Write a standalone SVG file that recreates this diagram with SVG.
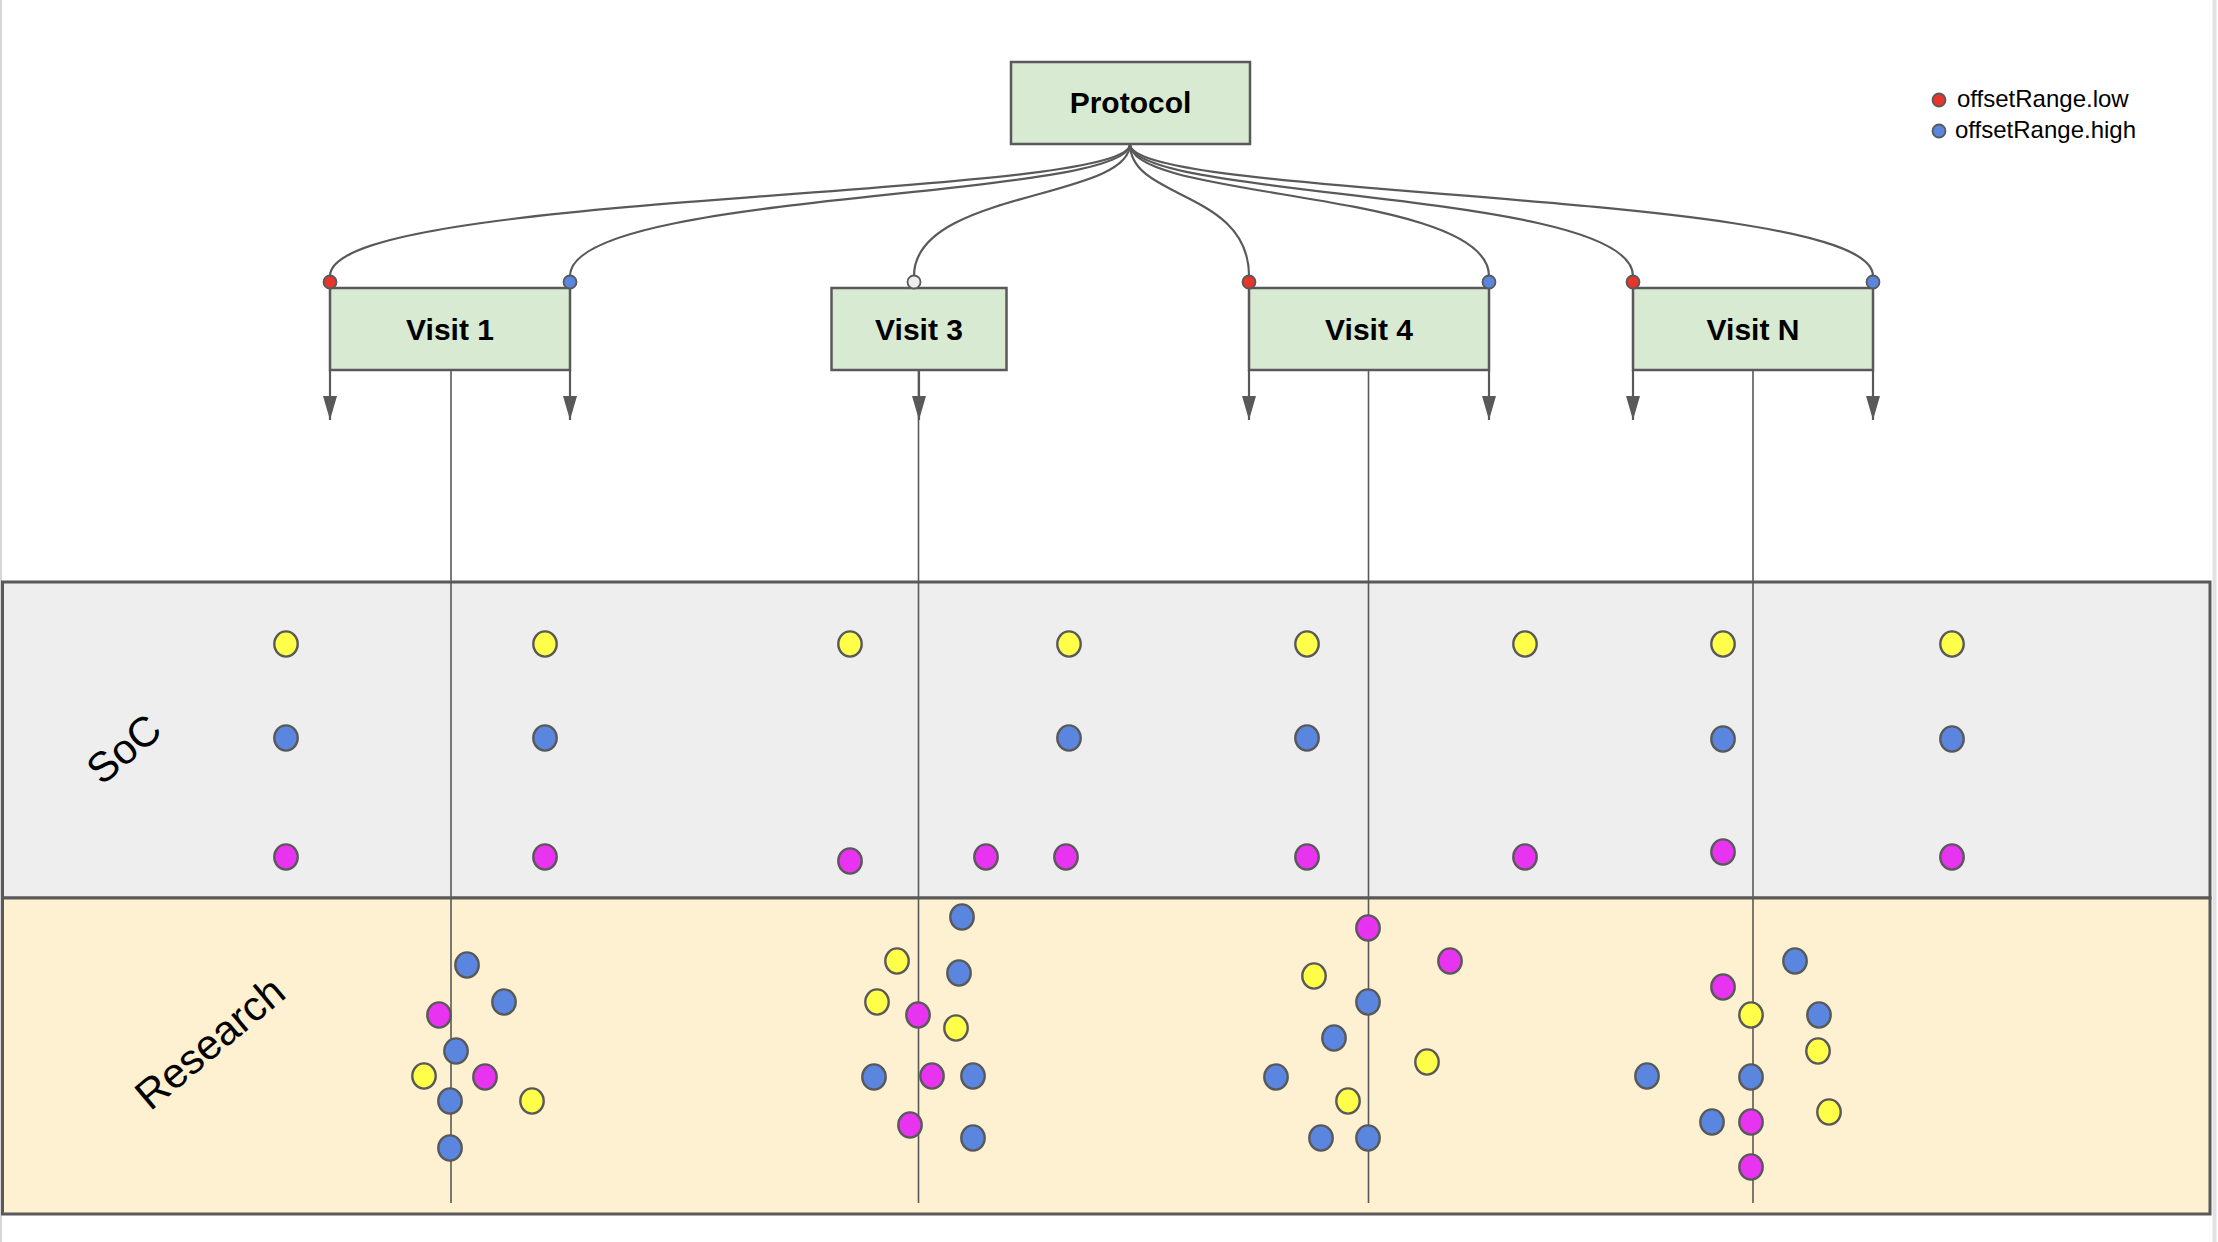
<svg xmlns="http://www.w3.org/2000/svg" width="2218" height="1242" viewBox="0 0 2218 1242">
<defs>
<style>
.node rect{fill:#d9ead3;stroke:#595959;stroke-width:2.5}
.node text{font-family:"Liberation Sans",Arial,sans-serif;font-weight:bold;font-size:30px;fill:#000;text-anchor:middle}
.conn{fill:none;stroke:#595959;stroke-width:2.2}
.vline{fill:none;stroke:#595959;stroke-width:1.6}
.port{stroke:#595959;stroke-width:1.8}
.dot{stroke:#595959;stroke-width:2.4}
.y{fill:#ffff4a}
.b{fill:#5a86e0}
.m{fill:#e833f0}
.r{fill:#e8352b}
.w{fill:#eeeeee}
.lane{stroke:#595959;stroke-width:3}
.lbl{font-family:"Liberation Sans",Arial,sans-serif;font-size:42px;fill:#000;text-anchor:middle}
.leg{font-family:"Liberation Sans",Arial,sans-serif;font-size:24px;fill:#000}
</style>
<marker id="arr" viewBox="0 0 24 14" refX="24" refY="7" markerWidth="24" markerHeight="14" markerUnits="userSpaceOnUse" orient="auto">
<path d="M0 0 L24 7 L0 14 Z" fill="#595959"/>
</marker>
<ellipse id="d" cx="0" cy="0" rx="11.7" ry="12.6"/>
</defs>
<rect x="0" y="0" width="2218" height="1242" fill="#ffffff"/>
<line x1="1" y1="0" x2="1" y2="1242" stroke="#d6d6d6" stroke-width="2"/>
<line x1="2214.5" y1="0" x2="2214.5" y2="1242" stroke="#e2e2e2" stroke-width="4"/>

<g id="lane-soc">
<rect class="lane" x="2.5" y="582" width="2207.5" height="316" fill="#eeeeee"/>
<text class="lbl" transform="translate(133,760) rotate(-40)">SoC</text>
</g>
<g id="lane-research">
<rect class="lane" x="2.5" y="898" width="2207.5" height="316" fill="#fdf1d1"/>
<text class="lbl" transform="translate(219,1054) rotate(-40)">Research</text>
</g>

<g id="connectors">
<path class="conn" d="M1130 144 C1130 200 330 190 330 276"/>
<path class="conn" d="M1130 144 C1130 200 570 190 570 276"/>
<path class="conn" d="M1130 144 C1130 200 914 190 914 276"/>
<path class="conn" d="M1130 144 C1130 200 1249 190 1249 276"/>
<path class="conn" d="M1130 144 C1130 200 1489 190 1489 276"/>
<path class="conn" d="M1130 144 C1130 200 1633 190 1633 276"/>
<path class="conn" d="M1130 144 C1130 200 1873 190 1873 276"/>
<path class="conn" d="M330 370 V420" marker-end="url(#arr)"/>
<path class="conn" d="M570 370 V420" marker-end="url(#arr)"/>
<path class="conn" d="M919 370 V420" marker-end="url(#arr)"/>
<path class="conn" d="M1249 370 V420" marker-end="url(#arr)"/>
<path class="conn" d="M1489 370 V420" marker-end="url(#arr)"/>
<path class="conn" d="M1633 370 V420" marker-end="url(#arr)"/>
<path class="conn" d="M1873 370 V420" marker-end="url(#arr)"/>
<path class="vline" d="M451 370 V1203"/>
<path class="vline" d="M918.5 370 V1203"/>
<path class="vline" d="M1368.5 370 V1203"/>
<path class="vline" d="M1753 370 V1203"/>
</g>

<g id="protocol" class="node">
<rect x="1011" y="62" width="239" height="82"/>
<text x="1130.5" y="113">Protocol</text>
</g>
<g id="visit1" class="node">
<rect x="330" y="288" width="240" height="82"/>
<text x="450" y="340">Visit 1</text>
</g>
<g id="visit3" class="node">
<rect x="831.5" y="288" width="175" height="82"/>
<text x="919" y="340">Visit 3</text>
</g>
<g id="visit4" class="node">
<rect x="1249" y="288" width="240" height="82"/>
<text x="1369" y="340">Visit 4</text>
</g>
<g id="visitN" class="node">
<rect x="1633" y="288" width="240" height="82"/>
<text x="1753" y="340">Visit N</text>
</g>

<g id="ports">
<circle class="port r" cx="330" cy="282" r="6.5"/>
<circle class="port b" cx="570" cy="282" r="6.5"/>
<circle class="port w" cx="914" cy="282" r="6.5"/>
<circle class="port r" cx="1249" cy="282" r="6.5"/>
<circle class="port b" cx="1489" cy="282" r="6.5"/>
<circle class="port r" cx="1633" cy="282" r="6.5"/>
<circle class="port b" cx="1873" cy="282" r="6.5"/>
</g>

<g id="legend">
<circle class="port r" cx="1939" cy="100" r="6.5"/>
<text class="leg" x="1957" y="107">offsetRange.low</text>
<circle class="port b" cx="1939" cy="131" r="6.5"/>
<text class="leg" x="1955" y="138">offsetRange.high</text>
</g>

<g id="soc-dots">
<use href="#d" class="dot y" x="286" y="644"/>
<use href="#d" class="dot y" x="545" y="644"/>
<use href="#d" class="dot y" x="850" y="644"/>
<use href="#d" class="dot y" x="1069" y="644"/>
<use href="#d" class="dot y" x="1307" y="644"/>
<use href="#d" class="dot y" x="1525" y="644"/>
<use href="#d" class="dot y" x="1723" y="644"/>
<use href="#d" class="dot y" x="1952" y="644"/>
<use href="#d" class="dot b" x="286" y="738"/>
<use href="#d" class="dot b" x="545" y="738"/>
<use href="#d" class="dot b" x="1069" y="738"/>
<use href="#d" class="dot b" x="1307" y="738"/>
<use href="#d" class="dot b" x="1723" y="739"/>
<use href="#d" class="dot b" x="1952" y="739"/>
<use href="#d" class="dot m" x="286" y="857"/>
<use href="#d" class="dot m" x="545" y="857"/>
<use href="#d" class="dot m" x="850" y="861"/>
<use href="#d" class="dot m" x="986" y="857"/>
<use href="#d" class="dot m" x="1066" y="857"/>
<use href="#d" class="dot m" x="1307" y="857"/>
<use href="#d" class="dot m" x="1525" y="857"/>
<use href="#d" class="dot m" x="1723" y="852"/>
<use href="#d" class="dot m" x="1952" y="857"/>
</g>

<g id="research-dots">
<use href="#d" class="dot b" x="467" y="965"/>
<use href="#d" class="dot b" x="504" y="1002"/>
<use href="#d" class="dot m" x="439" y="1015"/>
<use href="#d" class="dot b" x="456" y="1051"/>
<use href="#d" class="dot y" x="424" y="1076"/>
<use href="#d" class="dot m" x="485" y="1077"/>
<use href="#d" class="dot b" x="450" y="1101"/>
<use href="#d" class="dot y" x="532" y="1101"/>
<use href="#d" class="dot b" x="450" y="1148"/>

<use href="#d" class="dot b" x="962" y="917"/>
<use href="#d" class="dot y" x="897" y="961"/>
<use href="#d" class="dot b" x="959" y="973"/>
<use href="#d" class="dot y" x="877" y="1002"/>
<use href="#d" class="dot m" x="918" y="1015"/>
<use href="#d" class="dot y" x="956" y="1028"/>
<use href="#d" class="dot b" x="874" y="1077"/>
<use href="#d" class="dot m" x="932" y="1076"/>
<use href="#d" class="dot b" x="973" y="1076"/>
<use href="#d" class="dot m" x="910" y="1125"/>
<use href="#d" class="dot b" x="973" y="1138"/>

<use href="#d" class="dot m" x="1368" y="928"/>
<use href="#d" class="dot m" x="1450" y="961"/>
<use href="#d" class="dot y" x="1314" y="976"/>
<use href="#d" class="dot b" x="1368" y="1002"/>
<use href="#d" class="dot b" x="1334" y="1038"/>
<use href="#d" class="dot y" x="1427" y="1062"/>
<use href="#d" class="dot b" x="1276" y="1077"/>
<use href="#d" class="dot y" x="1348" y="1101"/>
<use href="#d" class="dot b" x="1321" y="1138"/>
<use href="#d" class="dot b" x="1368" y="1138"/>

<use href="#d" class="dot b" x="1795" y="961"/>
<use href="#d" class="dot m" x="1723" y="987"/>
<use href="#d" class="dot y" x="1751" y="1015"/>
<use href="#d" class="dot b" x="1819" y="1015"/>
<use href="#d" class="dot y" x="1818" y="1051"/>
<use href="#d" class="dot b" x="1647" y="1076"/>
<use href="#d" class="dot b" x="1751" y="1077"/>
<use href="#d" class="dot y" x="1829" y="1112"/>
<use href="#d" class="dot b" x="1712" y="1122"/>
<use href="#d" class="dot m" x="1751" y="1122"/>
<use href="#d" class="dot m" x="1751" y="1167"/>
</g>
</svg>
